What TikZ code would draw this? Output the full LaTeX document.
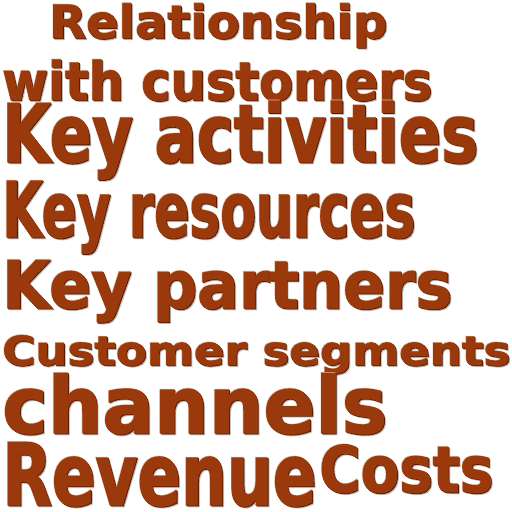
\documentclass[tikz,border=0pt]{standalone}
\usepackage{fontspec}
\setmainfont{DejaVu Sans}[BoldFeatures = {FakeBold = 1.5}]
\usepackage{graphicx}
\usepackage{tikz}

\definecolor{wordbrown}{RGB}{154,58,12}
\definecolor{worddark}{RGB}{88,28,4}
\definecolor{wordlight}{RGB}{236,190,160}
\definecolor{wordshadow}{RGB}{120,120,120}

% one word of the cloud, squeezed into its box: width #1, x-height #2
\newcommand{\fitword}[3]{\resizebox{#1pt}{#2pt}{\smash{#3}\vphantom{x}}}

% name, left, baseline, width, x-height, text
\newcommand{\cloudword}[6]{%
    \node [word, text=wordshadow, opacity=0.35] (#1-shadow) at (#2+1.8,#3+1.8) {\fitword{#4}{#5}{#6}};
    \node [word, text=wordlight] (#1-light) at (#2-0.6,#3-0.6) {\fitword{#4}{#5}{#6}};
    \node [word, text=worddark] (#1-dark) at (#2+0.8,#3+0.8) {\fitword{#4}{#5}{#6}};
    \node [word] (#1) at (#2,#3) {\fitword{#4}{#5}{#6}};
}

\tikzset{word/.style = {anchor = base west, inner sep = 0pt, font = \bfseries, text = wordbrown}}

\begin{document}
\begin{tikzpicture}[x = 1pt, y = -1pt]
            %\draw [step = 32, help lines] (0,0) grid (512,512);
            \useasboundingbox (0,0) rectangle (512,512);

            \cloudword{relationship}{49}{38}{338}{25}{Relationship}
            \cloudword{withcustomers}{2}{100}{430}{29}{with customers}
            \cloudword{activities}{2}{162}{476}{44}{Key activities}
            \cloudword{resources}{2}{237}{413}{42}{Key resources}
            \cloudword{partners}{2}{308}{450}{36}{Key partners}
            \cloudword{segments}{2}{365}{508}{22}{Customer segments}
            \cloudword{channels}{2}{433}{385}{43}{channels}
            \cloudword{revenue}{2}{505}{314}{47}{Revenue}
            \cloudword{costs}{319}{492}{174}{35}{Costs}

        \end{tikzpicture}
\end{document}
